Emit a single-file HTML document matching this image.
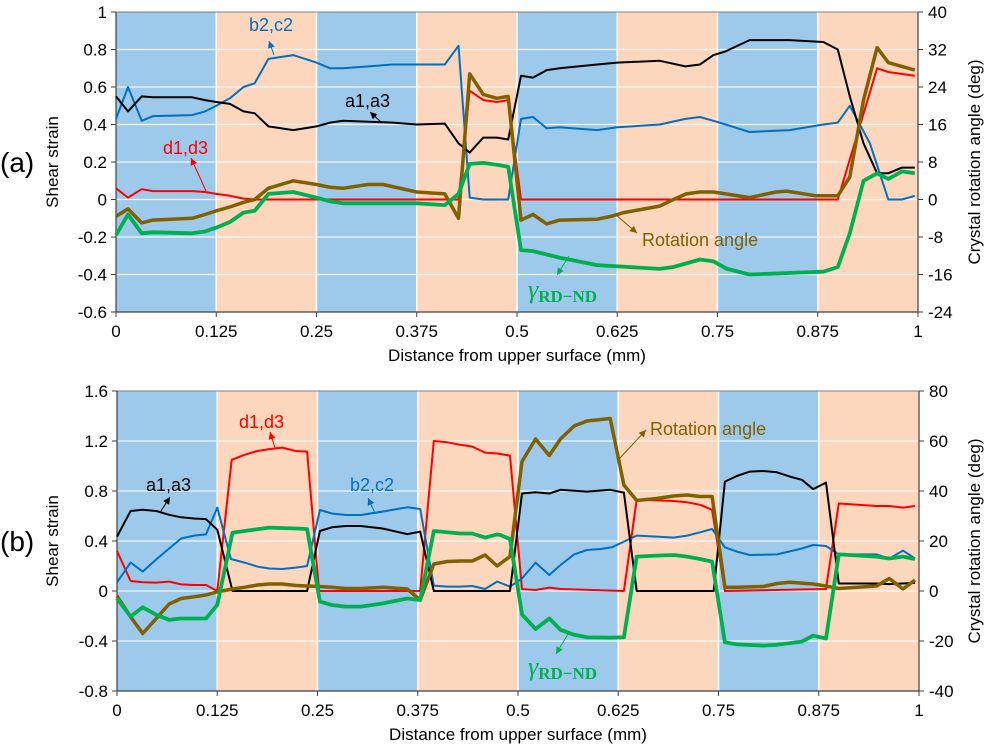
<!DOCTYPE html>
<html><head><meta charset="utf-8">
<style>
html,body{margin:0;padding:0;background:#fff;}
svg{display:block;font-family:"Liberation Sans",Calibri,sans-serif;}
</style></head>
<body>
<svg id="chart" width="989" height="750" viewBox="0 0 989 750" xmlns="http://www.w3.org/2000/svg"></svg>
<script>
// ---------- Data: panel (a) ----------
const a_blackX=[0,0.015,0.032,0.046,0.095,0.111,0.125,0.142,0.159,0.173,0.19,0.221,0.25,0.267,0.283,0.345,0.375,0.41,0.427,0.441,0.458,0.475,0.489,0.505,0.52,0.537,0.553,0.6,0.625,0.678,0.71,0.728,0.745,0.76,0.79,0.84,0.882,0.9,0.915,0.932,0.949,0.963,0.98,0.996];
const a_blackY=[0.55,0.47,0.55,0.545,0.545,0.53,0.52,0.51,0.47,0.46,0.39,0.37,0.39,0.41,0.42,0.41,0.40,0.405,0.30,0.25,0.33,0.33,0.32,0.66,0.65,0.69,0.70,0.72,0.73,0.74,0.71,0.72,0.77,0.79,0.85,0.85,0.84,0.80,0.55,0.30,0.14,0.14,0.17,0.17];
const a_blueX=[0,0.015,0.032,0.046,0.095,0.111,0.125,0.142,0.159,0.173,0.19,0.221,0.25,0.267,0.283,0.345,0.375,0.41,0.427,0.441,0.458,0.475,0.489,0.505,0.52,0.537,0.553,0.6,0.625,0.678,0.71,0.728,0.745,0.76,0.79,0.84,0.882,0.9,0.915,0.94,0.963,0.98,0.996];
const a_blueY=[0.43,0.6,0.42,0.445,0.45,0.47,0.50,0.54,0.60,0.62,0.75,0.77,0.73,0.70,0.70,0.72,0.72,0.72,0.82,0.01,0,0,0,0.43,0.44,0.38,0.385,0.37,0.385,0.40,0.43,0.44,0.42,0.40,0.36,0.37,0.40,0.41,0.50,0.30,0,0,0.02];
const a_redX=[0,0.015,0.032,0.046,0.095,0.111,0.125,0.142,0.159,0.173,0.427,0.441,0.458,0.475,0.489,0.505,0.9,0.949,0.963,0.996];
const a_redY=[0.06,0.01,0.055,0.045,0.045,0.04,0.03,0.02,0.005,0,0,0.58,0.53,0.52,0.53,0,0,0.70,0.68,0.66];
const a_rotX=[0,0.015,0.032,0.046,0.095,0.111,0.125,0.142,0.159,0.173,0.19,0.221,0.25,0.267,0.283,0.314,0.333,0.375,0.41,0.427,0.441,0.458,0.475,0.489,0.505,0.52,0.537,0.553,0.6,0.617,0.633,0.678,0.695,0.711,0.728,0.745,0.79,0.823,0.836,0.873,0.9,0.915,0.932,0.949,0.963,0.996];
const a_rotDeg=[-3.6,-2,-5,-4.4,-4,-3.2,-2.4,-1.6,-0.6,0,2.4,4,3.2,2.6,2.4,3.2,3.2,1.6,1.2,-4,26.8,22.4,21.6,22,-4.4,-3.2,-5.2,-4.4,-4.2,-3.6,-2.8,-1.4,0,1.2,1.6,1.6,0.4,1.6,1.8,0.8,0.8,4.8,21.2,32.4,29.2,27.6];
const a_gamX=[0,0.015,0.032,0.046,0.095,0.111,0.125,0.142,0.159,0.173,0.19,0.221,0.25,0.267,0.283,0.345,0.375,0.41,0.427,0.441,0.458,0.475,0.489,0.505,0.52,0.553,0.6,0.678,0.695,0.728,0.745,0.762,0.79,0.882,0.9,0.915,0.932,0.949,0.963,0.98,0.996];
const a_gamY=[-0.19,-0.08,-0.18,-0.175,-0.18,-0.17,-0.15,-0.12,-0.07,-0.06,0.03,0.04,0.01,-0.01,-0.02,-0.02,-0.02,-0.03,0.03,0.19,0.195,0.185,0.175,-0.27,-0.275,-0.31,-0.35,-0.37,-0.36,-0.32,-0.33,-0.37,-0.40,-0.385,-0.36,-0.18,0.1,0.14,0.11,0.15,0.14];
// ---------- Data: panel (b) ----------
const b_blackX=[0,0.017,0.032,0.049,0.065,0.08,0.096,0.111,0.125,0.144,0.237,0.253,0.268,0.285,0.304,0.331,0.362,0.378,0.395,0.49,0.505,0.522,0.539,0.553,0.586,0.615,0.632,0.648,0.744,0.758,0.773,0.789,0.806,0.823,0.839,0.854,0.868,0.884,0.9,0.947,0.963,0.995];
const b_blackY=[0.435,0.64,0.65,0.64,0.61,0.59,0.58,0.575,0.49,0,0,0.48,0.51,0.52,0.52,0.50,0.455,0.475,0,0,0.78,0.79,0.78,0.81,0.795,0.81,0.787,0,0,0.875,0.92,0.955,0.96,0.95,0.915,0.89,0.815,0.867,0.06,0.06,0.055,0.065];
const b_redX=[0,0.017,0.032,0.049,0.065,0.08,0.096,0.111,0.125,0.143,0.159,0.175,0.19,0.206,0.223,0.237,0.252,0.378,0.395,0.412,0.428,0.443,0.459,0.474,0.49,0.505,0.522,0.539,0.553,0.632,0.648,0.694,0.711,0.727,0.742,0.758,0.884,0.9,0.947,0.963,0.98,0.995];
const b_redY=[0.32,0.08,0.07,0.067,0.075,0.053,0.048,0.048,0,1.05,1.09,1.12,1.135,1.147,1.12,1.115,0,0,1.2,1.19,1.17,1.155,1.107,1.10,1.083,0.015,0.008,0.027,0.016,0,0.73,0.72,0.71,0.69,0.65,0,0.016,0.70,0.68,0.68,0.667,0.68];
const b_blueX=[0,0.017,0.032,0.049,0.065,0.08,0.096,0.111,0.125,0.142,0.159,0.175,0.19,0.206,0.223,0.237,0.253,0.268,0.285,0.304,0.331,0.362,0.378,0.395,0.412,0.428,0.443,0.459,0.474,0.49,0.505,0.522,0.539,0.553,0.57,0.586,0.603,0.617,0.632,0.648,0.673,0.694,0.711,0.727,0.742,0.758,0.773,0.789,0.823,0.854,0.868,0.884,0.9,0.947,0.963,0.98,0.995];
const b_blueY=[0.07,0.227,0.155,0.253,0.34,0.42,0.443,0.453,0.667,0.256,0.227,0.195,0.18,0.176,0.187,0.2,0.648,0.62,0.608,0.608,0.635,0.67,0.656,0.043,0.035,0.035,0.04,0.016,0.075,0.035,0.10,0.227,0.128,0.208,0.293,0.328,0.336,0.35,0.395,0.443,0.435,0.427,0.443,0.47,0.496,0.35,0.315,0.288,0.293,0.34,0.368,0.36,0.293,0.293,0.26,0.323,0.26];
const b_gamX=[0,0.017,0.032,0.049,0.065,0.08,0.096,0.111,0.125,0.144,0.159,0.19,0.223,0.237,0.253,0.268,0.285,0.304,0.331,0.362,0.378,0.395,0.428,0.443,0.459,0.474,0.478,0.49,0.505,0.522,0.539,0.553,0.57,0.586,0.615,0.632,0.648,0.673,0.694,0.711,0.727,0.742,0.758,0.773,0.806,0.823,0.854,0.868,0.884,0.9,0.947,0.963,0.98,0.995];
const b_gamY=[-0.06,-0.205,-0.13,-0.19,-0.23,-0.22,-0.22,-0.22,-0.11,0.467,0.48,0.507,0.50,0.496,-0.085,-0.112,-0.125,-0.125,-0.1,-0.06,-0.072,0.48,0.46,0.46,0.427,0.453,0.448,0.416,-0.187,-0.304,-0.22,-0.31,-0.35,-0.37,-0.373,-0.37,0.275,0.283,0.288,0.275,0.256,0.235,-0.41,-0.427,-0.437,-0.43,-0.405,-0.357,-0.38,0.293,0.275,0.26,0.275,0.256];
const b_rotX=[0,0.017,0.032,0.049,0.065,0.08,0.096,0.111,0.125,0.144,0.159,0.175,0.19,0.206,0.223,0.237,0.253,0.268,0.285,0.304,0.331,0.362,0.378,0.395,0.412,0.428,0.443,0.459,0.474,0.49,0.505,0.522,0.539,0.553,0.57,0.586,0.615,0.632,0.648,0.673,0.694,0.711,0.727,0.742,0.758,0.773,0.806,0.823,0.839,0.868,0.884,0.9,0.947,0.963,0.98,0.995];
const b_rotDeg=[-2,-10.3,-17,-11,-5.2,-3,-2.3,-1.6,-0.3,0.8,1.5,2.4,2.8,2.8,2.2,2,1.8,1.5,1,1,1.5,0.8,-3.6,10.8,11.8,12,12,14.4,10,13.8,51.8,60.8,54.2,60.8,66,68,69,42.4,36.2,37,38,38.4,37.8,37.8,1.5,1.5,1.8,3,3.5,2.8,2,1,2,5,0.8,4.4];
const xTicks=[0,0.125,0.25,0.375,0.5,0.625,0.75,0.875,1];
const xTickLabels=["0","0.125","0.25","0.375","0.5","0.625","0.75","0.875","1"];
const aLeftTicks=[1,0.8,0.6,0.4,0.2,0,-0.2,-0.4,-0.6];
const aRightTicks=[40,32,24,16,8,0,-8,-16,-24];
const bLeftTicks=[1.6,1.2,0.8,0.4,0,-0.4,-0.8];
const bRightTicks=[80,60,40,20,0,-20,-40];

const NS="http://www.w3.org/2000/svg";
const svg=document.getElementById('chart');
function mk(tag,attrs,parent){const e=document.createElementNS(NS,tag);for(const k in attrs)e.setAttribute(k,attrs[k]);(parent||svg).appendChild(e);return e;}
function fmt(v){return (Math.abs(v)<1e-9?"0":String(v));}

function panel(cfg){
  const g=mk('g',{});
  
  
  const X=v=>cfg.x0+(cfg.x1-cfg.x0)*v;
  const Y=v=>cfg.yb-(v-cfg.ymin)/(cfg.ymax-cfg.ymin)*(cfg.yb-cfg.yt);
  const YR=d=>Y(d/cfg.ratio);
  for(let i=0;i<8;i++){
    const r=mk('rect',{x:X(i*0.125),y:cfg.yt,width:X(0.125)-X(0),height:cfg.yb-cfg.yt,fill:i%2===0?'#9DC9EA':'#FCD6BD'},g);
    
    
  }
  for(let i=1;i<8;i++){mk('line',{x1:X(i*0.125),x2:X(i*0.125),y1:cfg.yt,y2:cfg.yb,stroke:'#fff','stroke-width':1.5},g);}
  cfg.leftTicks.forEach(t=>{
    if(t!==cfg.ymax&&t!==cfg.ymin)mk('line',{x1:cfg.x0,x2:cfg.x1,y1:Y(t),y2:Y(t),stroke:'#fff','stroke-width':1.2,opacity:0.85},g);
  });
  mk('line',{x1:cfg.x0,x2:cfg.x1,y1:cfg.yt,y2:cfg.yt,stroke:'#808080','stroke-width':1},g);
  mk('line',{x1:cfg.x0,x2:cfg.x1,y1:cfg.yb,y2:cfg.yb,stroke:'#404040','stroke-width':1.2},g);
  mk('line',{x1:cfg.x0,x2:cfg.x0,y1:cfg.yt,y2:cfg.yb,stroke:'#404040','stroke-width':1.2},g);
  mk('line',{x1:cfg.x1,x2:cfg.x1,y1:cfg.yt,y2:cfg.yb,stroke:'#404040','stroke-width':1.2},g);
  cfg.leftTicks.forEach(t=>{
    mk('line',{x1:cfg.x0-5,x2:cfg.x0,y1:Y(t),y2:Y(t),stroke:'#404040'},g);
    const tx=mk('text',{x:cfg.x0-9,y:Y(t)+6,'text-anchor':'end','font-size':17,fill:'#000'},g);tx.textContent=fmt(t);
    
    
  });
  cfg.rightTicks.forEach(t=>{
    mk('line',{x1:cfg.x1,x2:cfg.x1+5,y1:YR(t),y2:YR(t),stroke:'#404040'},g);
    const tx=mk('text',{x:cfg.x1+10,y:YR(t)+6,'text-anchor':'start','font-size':17,fill:'#000'},g);tx.textContent=fmt(t);
    
    
  });
  xTicks.forEach((t,i)=>{
    mk('line',{x1:X(t),x2:X(t),y1:cfg.yb,y2:cfg.yb+5,stroke:'#404040'},g);
    const tx=mk('text',{x:X(t),y:cfg.yb+25,'text-anchor':'middle','font-size':17,fill:'#000'},g);tx.textContent=xTickLabels[i];
    
    
  });
  const xt=mk('text',{x:(cfg.x0+cfg.x1)/2,y:cfg.yb+49,'text-anchor':'middle','font-size':17,fill:'#000'},g);
  xt.textContent='Distance from upper surface (mm)';
  
  
  const cy=(cfg.yt+cfg.yb)/2;
  const yl=mk('text',{x:0,y:0,transform:`translate(58,${cy}) rotate(-90)`,'text-anchor':'middle','font-size':17,fill:'#000'},g);
  yl.textContent='Shear strain';
  
  
  const yr=mk('text',{x:0,y:0,transform:`translate(980,${cy}) rotate(-90)`,'text-anchor':'middle','font-size':17,fill:'#000'},g);
  yr.textContent='Crystal rotation angle (deg)';
  
  
  const pl=mk('text',{x:0,y:cy+10,'font-size':28,fill:'#000'},g);
  pl.textContent=cfg.label;
  
  
  function line(xs,ys,color,w,name,right){
    const pts=xs.map((x,i)=>X(x).toFixed(1)+','+(right?YR(ys[i]):Y(ys[i])).toFixed(1)).join(' ');
    const p=mk('polyline',{points:pts,fill:'none',stroke:color,'stroke-width':w,'stroke-linejoin':'round'},g);
    
    
  }
  cfg.series.forEach(s=>line(s[0],s[1],s[2],s[3],s[4],s[5]));
  cfg.notes.forEach(n=>{
    mk('line',{x1:n.ax1,y1:n.ay1,x2:n.ax2,y2:n.ay2,stroke:n.c,'stroke-width':1},g);
    const ang=Math.atan2(n.ay2-n.ay1,n.ax2-n.ax1);
    const L=7,W=3.5;
    const bx=n.ax2-L*Math.cos(ang),by=n.ay2-L*Math.sin(ang);
    mk('polygon',{points:`${n.ax2},${n.ay2} ${bx-W*Math.sin(ang)},${by+W*Math.cos(ang)} ${bx+W*Math.sin(ang)},${by-W*Math.cos(ang)}`,fill:n.c},g);
    const t=mk('text',{x:n.tx,y:n.ty,'font-size':n.fs||18,fill:n.c,'font-family':n.serif?'"Liberation Serif",serif':'"Liberation Sans",sans-serif'},g);
    if(n.serif){
      const a=mk('tspan',{'font-style':'italic','font-size':26},t);a.textContent='γ';
      const b=mk('tspan',{'font-size':17,'font-weight':'bold',dy:4},t);b.textContent='RD−ND';
    } else t.textContent=n.text;
    
    
  });
}

panel({name:'panel-a',label:'(a)',x0:116,x1:918,yt:12,yb:312,ymin:-0.6,ymax:1,ratio:40,
  leftTicks:aLeftTicks,rightTicks:aRightTicks,
  series:[[a_redX,a_redY,'#FF0000',2,'series-d1-d3'],[a_blueX,a_blueY,'#0070C0',2,'series-b2-c2'],[a_blackX,a_blackY,'#000',2,'series-a1-a3'],
    [a_rotX,a_rotDeg,'#806000',3.5,'series-rotation-angle',true],[a_gamX,a_gamY,'#00B050',3.8,'series-gamma-rd-nd']],
  notes:[
    {text:'b2,c2',c:'#0070C0',tx:249,ty:31,ax1:274,ay1:55,ax2:269,ay2:41,name:'label-b2-c2'},
    {text:'a1,a3',c:'#000',tx:345,ty:107,ax1:381,ay1:122,ax2:370,ay2:112,name:'label-a1-a3'},
    {text:'d1,d3',c:'#FF0000',tx:163,ty:154,ax1:206,ay1:191,ax2:191,ay2:158,name:'label-d1-d3'},
    {text:'Rotation angle',c:'#806000',tx:642,ty:246,ax1:616,ay1:215,ax2:637,ay2:233,name:'label-rotation-angle'},
    {serif:true,c:'#00B050',tx:528,ty:298,ax1:569,ay1:256,ax2:557,ay2:275,name:'label-gamma-rd-nd'}
  ]});

panel({name:'panel-b',label:'(b)',x0:117,x1:919,yt:391,yb:691,ymin:-0.8,ymax:1.6,ratio:50,
  leftTicks:bLeftTicks,rightTicks:bRightTicks,
  series:[[b_redX,b_redY,'#FF0000',2,'series-d1-d3'],[b_blueX,b_blueY,'#0070C0',2,'series-b2-c2'],[b_blackX,b_blackY,'#000',2,'series-a1-a3'],
    [b_rotX,b_rotDeg,'#806000',3.5,'series-rotation-angle',true],[b_gamX,b_gamY,'#00B050',3.8,'series-gamma-rd-nd']],
  notes:[
    {text:'d1,d3',c:'#FF0000',tx:239,ty:428,ax1:275,ay1:448,ax2:270,ay2:432,name:'label-d1-d3'},
    {text:'a1,a3',c:'#000',tx:146,ty:491,ax1:161,ay1:511,ax2:170,ay2:497,name:'label-a1-a3'},
    {text:'b2,c2',c:'#0070C0',tx:350,ty:491,ax1:375,ay1:513,ax2:368,ay2:498,name:'label-b2-c2'},
    {text:'Rotation angle',c:'#806000',tx:650,ty:435,ax1:620,ay1:458,ax2:646,ay2:430,name:'label-rotation-angle'},
    {serif:true,c:'#00B050',tx:528,ty:675,ax1:568,ay1:634,ax2:556,ay2:654,name:'label-gamma-rd-nd'}
  ]});
</script>
</body></html>
